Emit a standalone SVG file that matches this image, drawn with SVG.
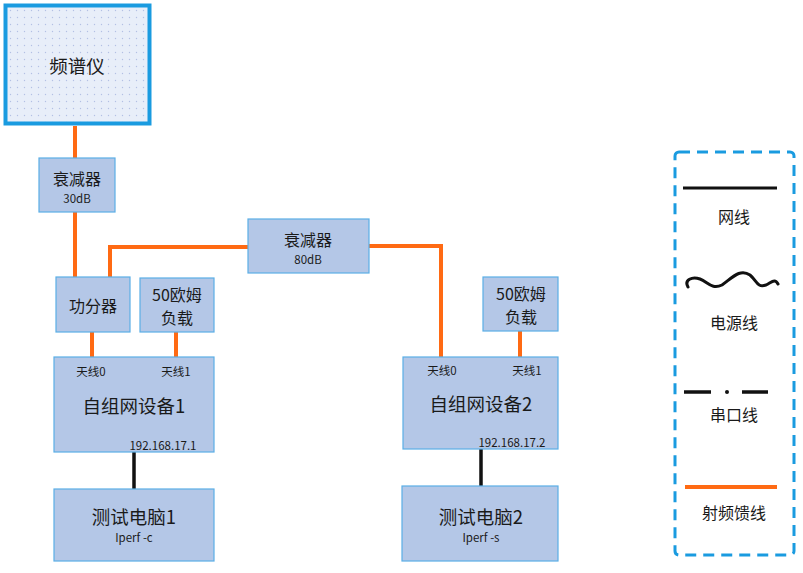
<svg xmlns="http://www.w3.org/2000/svg" width="803" height="573" viewBox="0 0 803 573">
<defs>
<pattern id="dots" width="7" height="7" patternUnits="userSpaceOnUse">
<rect width="7" height="7" fill="#e8eef9"/>
<circle cx="3.5" cy="3.5" r="0.7" fill="#b3c0e4"/>
</pattern>
</defs>
<style>
.box{fill:#b4c7e7;stroke:#5aaee6;stroke-width:1.2}
.t{font-family:"Noto Sans CJK SC","Microsoft YaHei",sans-serif;fill:#1a1a1a;text-anchor:middle;dominant-baseline:central}
.big{font-size:18.5px}
.mid{font-size:16px}
.sm{font-size:11.5px}
.rf{fill:none;stroke:#ff6a13;stroke-width:4}
.net{fill:none;stroke:#111;stroke-width:3.5}
</style>
<rect width="803" height="573" fill="#ffffff"/>
<g id="connectors">
<line class="rf" x1="75" y1="126" x2="75" y2="158"/>
<line class="rf" x1="75" y1="212" x2="75" y2="277"/>
<polyline class="rf" points="110,277 110,247 248,247"/>
<polyline class="rf" points="369,246 441,246 441,357"/>
<line class="rf" x1="92" y1="332" x2="92" y2="357"/>
<line class="rf" x1="176" y1="332" x2="176" y2="357"/>
<line class="rf" x1="520" y1="331" x2="520" y2="357"/>
<line class="net" x1="134" y1="452" x2="134" y2="489"/>
<line class="net" x1="481" y1="449" x2="481" y2="486"/>
</g>
<g id="spectrum">
<rect x="5.5" y="5.5" width="144" height="118" fill="url(#dots)" stroke="#1a9be0" stroke-width="4"/>
<text class="t big" x="77" y="65">频谱仪</text>
</g>
<g id="att30">
<rect class="box" x="39" y="158" width="76" height="54"/>
<text class="t mid" x="77" y="178">衰减器</text>
<text class="t sm" x="77" y="198">30dB</text>
</g>
<g id="splitter">
<rect class="box" x="56" y="277" width="74" height="55"/>
<text class="t mid" x="93" y="305">功分器</text>
</g>
<g id="load1">
<rect class="box" x="140" y="278" width="74" height="54"/>
<text class="t mid" x="177" y="294">50欧姆</text>
<text class="t mid" x="177" y="317">负载</text>
</g>
<g id="att80">
<rect class="box" x="248" y="219" width="121" height="54"/>
<text class="t mid" x="308" y="239">衰减器</text>
<text class="t sm" x="308" y="259">80dB</text>
</g>
<g id="dev1">
<rect class="box" x="54" y="357" width="160" height="95"/>
<text class="t sm" x="91" y="371">天线0</text>
<text class="t sm" x="176" y="371">天线1</text>
<text class="t big" x="134" y="405">自组网设备1</text>
<text class="t sm" x="163" y="445">192.168.17.1</text>
</g>
<g id="load2">
<rect class="box" x="483" y="277" width="75" height="54"/>
<text class="t mid" x="521" y="293">50欧姆</text>
<text class="t mid" x="521" y="316">负载</text>
</g>
<g id="dev2">
<rect class="box" x="403" y="357" width="155" height="92"/>
<text class="t sm" x="442" y="370">天线0</text>
<text class="t sm" x="527" y="370">天线1</text>
<text class="t big" x="481" y="403">自组网设备2</text>
<text class="t sm" x="512" y="442">192.168.17.2</text>
</g>
<g id="pc1">
<rect class="box" x="54" y="489" width="160" height="72"/>
<text class="t big" x="134" y="516">测试电脑1</text>
<text class="t sm" x="134" y="537">Iperf -c</text>
</g>
<g id="pc2">
<rect class="box" x="402" y="486" width="156" height="75"/>
<text class="t big" x="481" y="516">测试电脑2</text>
<text class="t sm" x="481" y="537">Iperf -s</text>
</g>
<g id="legend">
<rect x="675" y="152" width="119" height="403" rx="4" fill="none" stroke="#1a9be0" stroke-width="3" stroke-dasharray="11,7"/>
<line x1="683" y1="188" x2="777" y2="188" stroke="#111" stroke-width="3"/>
<text class="t mid" x="734" y="216">网线</text>
<path d="M688,287 C684,280 692,276 700,279 C708,282 712,290 722,285 C732,278 740,268 750,275 C757,281 757,288 766,285 C772,282 775,278 778,284" fill="none" stroke="#111" stroke-width="3" stroke-linecap="round"/>
<text class="t mid" x="734" y="322">电源线</text>
<line x1="684" y1="392" x2="711" y2="392" stroke="#111" stroke-width="3.5"/>
<circle cx="727" cy="392" r="2" fill="#111"/>
<line x1="742" y1="392" x2="768" y2="392" stroke="#111" stroke-width="3.5"/>
<text class="t mid" x="734" y="414">串口线</text>
<line x1="685" y1="487" x2="777" y2="487" stroke="#ff6a13" stroke-width="4"/>
<text class="t mid" x="734" y="512">射频馈线</text>
</g>
</svg>
